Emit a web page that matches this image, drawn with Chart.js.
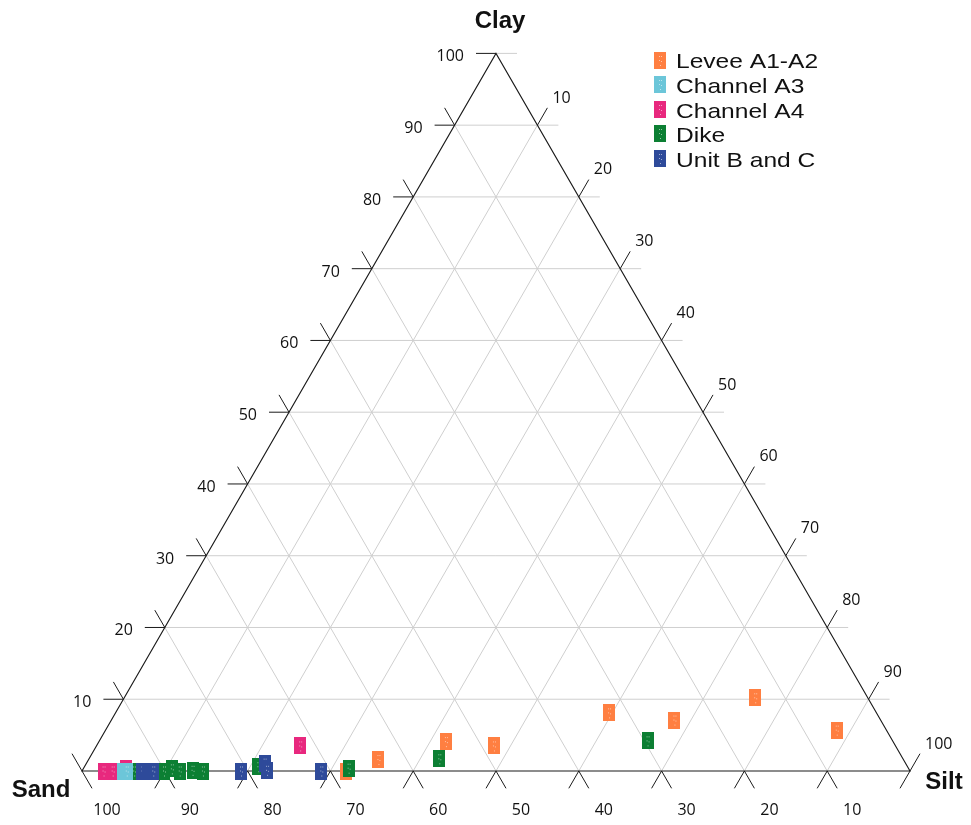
<!DOCTYPE html>
<html><head><meta charset="utf-8">
<script src="https://cdn.jsdelivr.net/npm/chart.js@4.4.1/dist/chart.umd.min.js"></script>
<style>html,body{margin:0;padding:0;background:#fff}canvas{display:block}</style>
</head><body>
<canvas id="c" width="971" height="825"></canvas>
<script>
// ---- data (percent sand / silt / clay) ----
const seriesNames  = ['Levee A1-A2', 'Channel A3', 'Channel A4', 'Dike', 'Unit B and C'];
const seriesColors = ['#FF7F41', '#6CC6D9', '#E8287E', '#0C7F33', '#2E4A9A'];

const leveeSand = [13.6, 6.0, 24.9, 32.3, 48.5, 54.0, 63.4, 68.1];
const leveeSilt = [76.2, 88.3, 68.0, 59.6, 48.0, 41.9, 35.0, 31.9];
const leveeClay = [10.2, 5.7, 7.1, 8.1, 3.5, 4.1, 1.6, 0.0];

const chanA3Sand = [95.0, 94.6];
const chanA3Silt = [5.0, 5.4];
const chanA3Clay = [0.0, 0.0];

const chanA4Sand = [71.9, 97.4, 96.3, 94.5];
const chanA4Silt = [24.6, 2.6, 3.7, 5.1];
const chanA4Clay = [3.5, 0.0, 0.0, 0.4];

const dikeSand = [29.6, 56.0, 67.6, 78.4, 93.7, 90.1, 89.0, 88.2, 86.6, 85.4];
const dikeSilt = [66.2, 42.3, 32.0, 21.0, 6.3, 9.9, 10.7, 11.8, 13.3, 14.6];
const dikeClay = [4.2, 1.7, 0.4, 0.6, 0.0, 0.0, 0.3, 0.0, 0.1, 0.0];

const unitBSand = [71.1, 77.4, 77.6, 80.8, 92.7, 92.0, 91.4];
const unitBSilt = [28.9, 21.5, 22.3, 19.2, 7.3, 8.0, 8.6];
const unitBClay = [0.0, 1.1, 0.1, 0.0, 0.0, 0.0, 0.0];

const tickValues = [10, 20, 30, 40, 50, 60, 70, 80, 90, 100];
const axisTitles = ['Clay', 'Sand', 'Silt'];

// ---- ternary -> cartesian (side = 100) ----
const H = Math.sqrt(3) / 2;
function toXY(sand, silt, clay) { return { x: silt + clay / 2, y: clay * H }; }
function build(sa, si, cl) { return sa.map((s, i) => toXY(s, si[i], cl[i])); }

function markerImage(color) {
  const cv = document.createElement('canvas');
  cv.width = 12; cv.height = 17;
  const g = cv.getContext('2d');
  g.fillStyle = color; g.fillRect(0, 0, 12, 17);
  g.fillStyle = 'rgba(255,255,255,0.55)';
  [[5,4],[7,4],[5,8],[7,9],[6,13]].forEach(p => g.fillRect(p[0], p[1], 1, 1));
  return cv;
}
const markers = seriesColors.map(markerImage);

const seriesData = [
  build(leveeSand, leveeSilt, leveeClay),
  build(chanA3Sand, chanA3Silt, chanA3Clay),
  build(chanA4Sand, chanA4Silt, chanA4Clay),
  build(dikeSand, dikeSilt, dikeClay),
  build(unitBSand, unitBSilt, unitBClay)
];
// draw order (higher = further back)
const drawOrder = [5, 1, 4, 3, 2];

const ternaryFrame = {
  id: 'ternaryFrame',
  beforeDatasetsDraw(chart) {
    const ctx = chart.ctx, xs = chart.scales.x, ys = chart.scales.y;
    const P = (sand, silt, clay) => { const c = toXY(sand, silt, clay); return { x: xs.getPixelForValue(c.x), y: ys.getPixelForValue(c.y) }; };
    const line = (a, b) => { ctx.beginPath(); ctx.moveTo(a.x, a.y); ctx.lineTo(b.x, b.y); ctx.stroke(); };
    const ext = (a, dx, dy, len) => ({ x: a.x + dx * len, y: a.y + dy * len });
    const L = 20, c60 = 0.5, s60 = H;
    ctx.save();
    // grid
    ctx.strokeStyle = '#cfcfcf'; ctx.lineWidth = 1;
    tickValues.forEach(k => {
      if (k < 100) {
        line(P(100 - k, 0, k), P(0, 100 - k, k));      // clay
        line(P(100 - k, k, 0), P(0, k, 100 - k));      // silt
        line(P(k, 100 - k, 0), P(k, 0, 100 - k));      // sand
      }
      const r = P(0, 100 - k, k);
      line(r, ext(r, 1, 0, 21));
    });
    // triangle
    ctx.strokeStyle = '#1a1a1a'; ctx.lineWidth = 1.1;
    const A = P(100, 0, 0), B = P(0, 100, 0), C = P(0, 0, 100);
    ctx.beginPath(); ctx.moveTo(A.x, A.y); ctx.lineTo(B.x, B.y); ctx.lineTo(C.x, C.y); ctx.closePath(); ctx.stroke();
    // ticks
    ctx.lineWidth = 1;
    tickValues.forEach(k => {
      const lc = P(100 - k, 0, k); line(lc, ext(lc, -1, 0, L));
      const rs = P(0, k, 100 - k); line(rs, ext(rs, c60, -s60, L));
      const bs = P(100 - k, k, 0); line(bs, ext(bs, -c60, s60, L));
      const bd = P(k, 100 - k, 0); line(bd, ext(bd, c60, s60, L));
      const ld = P(k, 0, 100 - k); line(ld, ext(ld, -c60, -s60, L));
    });
    // tick labels
    ctx.fillStyle = '#111';
    ctx.font = '16px "Open Sans"';
    ctx.textBaseline = 'alphabetic';
    tickValues.forEach(k => {
      const lc = P(100 - k, 0, k);
      ctx.textAlign = 'right'; ctx.fillText(String(k), lc.x - 32, lc.y + 8);
      const rs = P(0, k, 100 - k);
      ctx.textAlign = 'left'; ctx.fillText(String(k), rs.x + 15, rs.y - 22.5);
      const bd = P(k, 100 - k, 0);
      ctx.textAlign = 'center'; ctx.fillText(String(k), bd.x + 25, bd.y + 44);
    });
    // axis titles
    ctx.font = 'bold 24px "Liberation Sans"';
    ctx.textAlign = 'center';
    ctx.fillText(axisTitles[0], C.x + 4, C.y - 25);
    ctx.fillText(axisTitles[1], A.x - 41, A.y + 25.5);
    ctx.fillText(axisTitles[2], B.x + 34, B.y + 17.5);
    ctx.restore();
  },
  afterDatasetsDraw(chart) {
    const ctx = chart.ctx;
    ctx.save();
    ctx.fillStyle = '#111';
    ctx.font = '21px "Liberation Sans"';
    ctx.textBaseline = 'alphabetic';
    ctx.textAlign = 'left';
    seriesNames.forEach((n, i) => {
      const cy = 59.5 + i * 24.6;
      ctx.drawImage(markers[i], 654, Math.round(cy - 8));
      ctx.save();
      ctx.translate(676, cy + 8.8);
      ctx.scale(1.17, 1);
      ctx.fillText(n, 0, 0);
      ctx.restore();
    });
    ctx.restore();
  }
};

new Chart(document.getElementById('c'), {
  type: 'scatter',
  data: {
    datasets: seriesNames.map((n, i) => ({
      label: n,
      data: seriesData[i],
      pointStyle: markers[i],
      pointRadius: 7,
      backgroundColor: seriesColors[i],
      borderColor: seriesColors[i],
      order: drawOrder[i],
      clip: false
    }))
  },
  options: {
    responsive: false,
    animation: false,
    events: [],
    layout: { padding: { left: 82, right: 61, top: 53.4, bottom: 54 } },
    scales: {
      x: { type: 'linear', min: 0, max: 100, display: false },
      y: { type: 'linear', min: 0, max: 100 * H, display: false }
    },
    plugins: { legend: { display: false }, tooltip: { enabled: false } }
  },
  plugins: [ternaryFrame]
});
</script>
</body></html>
